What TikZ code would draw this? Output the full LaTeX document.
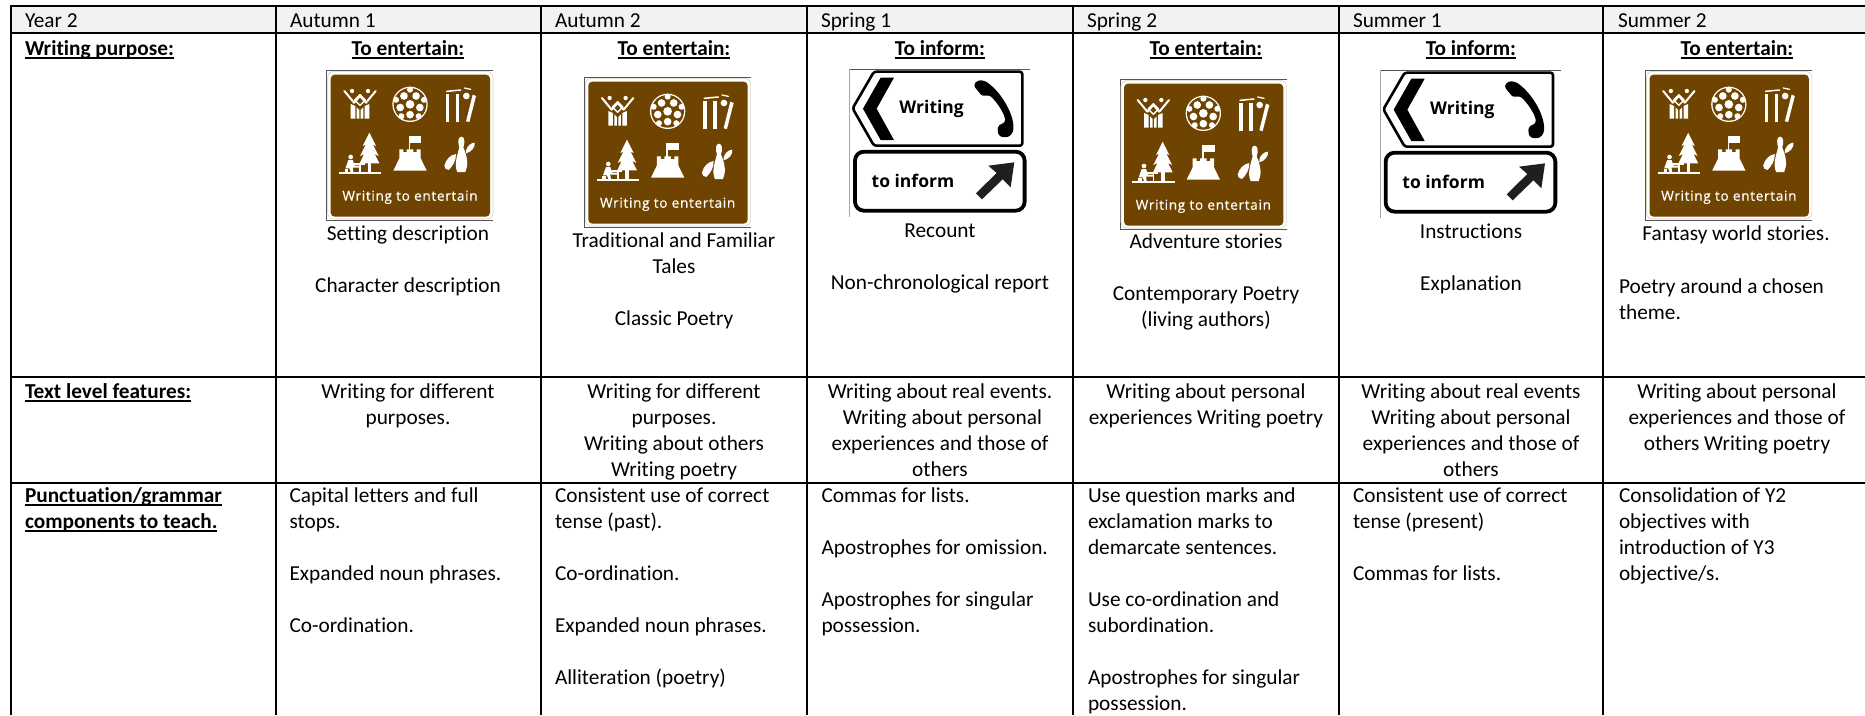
\documentclass[tikz,border=0pt]{standalone}
\usepackage{fontspec}
\setmainfont[Ligatures=NoCommon]{Carlito}
\newfontfamily\signfont[LetterSpace=5,FakeBold=0.4]{Open Sans}
\newfontfamily\roadfont{Open Sans}
\definecolor{signbrown}{HTML}{6F4400}
\definecolor{headgrey}{HTML}{F2F2F2}
\definecolor{framegrey}{HTML}{555555}
\definecolor{creamline}{HTML}{D8D2C0}
\newcommand\tabfont{\fontsize{21.3}{26}\selectfont}
\newcommand\ulb[1]{\setbox0\hbox{\bfseries #1}\rlap{\rule[-3.6pt]{\wd0}{1.7pt}}\box0}
\tikzset{
  x=1pt,y=-1pt,
  gridline/.style={line width=2pt,black},
  cellw/.style={anchor=north west,inner sep=0pt,outer sep=0pt,align=left,font=\tabfont,yshift=18.2pt},
  cellc/.style={anchor=north,inner sep=0pt,outer sep=0pt,align=center,font=\tabfont,yshift=18.2pt},
  entlabel/.style={text=white,inner sep=0pt,font=\signfont\fontsize{13.6}{14}\selectfont},
  roadlabel/.style={text=black,inner sep=0pt,font=\roadfont\bfseries\fontsize{17.5}{18}\selectfont},
  iconw/.style={fill=white,draw=none},
  iconl/.style={draw=white,line cap=round,line join=round},
}
\newcommand\entsign[3]{%
\begin{scope}[shift={(#1,#2)},scale=1/3,shift={(-290,-210)}]
  \draw[framegrey,line width=.7pt] (790,211) -- (290,211) -- (290,660) -- (790,660);
  \draw[creamline,line width=.6pt,rounded corners=6pt] (293,214) rectangle (789,657);
  \fill[signbrown,rounded corners=4pt] (302,224) rectangle (780,650);
  % people
  \draw[iconl,line width=2pt] (343,273) -- (372,308) -- (390,288) -- (408,308) -- (437,273);
  \draw[iconl,line width=1.4pt] (390,284) -- (406,300) -- (390,316) -- (374,300) -- cycle;
  \fill[white] (366,273) circle (6.5) (414,273) circle (6.5);
  \fill[white] (362,312) -- (376,318) -- (376,356) -- (362,356) -- cycle
               (404,318) -- (418,312) -- (418,356) -- (404,356) -- cycle
               (380,322) -- (388,330) -- (388,356) -- (380,356) -- cycle
               (400,322) -- (392,330) -- (392,356) -- (400,356) -- cycle;
  % football
  \fill[white] (540,313) circle (53);
  \fill[signbrown] (540,313) circle (49);
  \fill[white] (540,313) circle (13);
  \foreach \a in {18,90,162,234,306}{
    \fill[white] (540,313)++(\a:31) circle (11.5);
  }
  \foreach \a in {54,126,198,270,342}{
    \fill[white] (540,313)++(\a:44) circle (9);
  }
  % stumps
  \fill[iconw] (647,283) rectangle (658,366);
  \fill[iconw] (677,283) rectangle (688,366);
  \fill[iconw] (728,284) -- (738,288) -- (718,366) -- (708,364) -- cycle;
  \draw[iconl,line width=1.5pt] (650,274) -- (692,270);
  \draw[iconl,line width=1.3pt] (703,264) -- (722,268);
  \fill[white] (709,288) circle (10);
  % tree and picnic table
  \fill[iconw] (418,398) -- (438,438) -- (429,434) -- (446,468) -- (434,462) -- (448,490) -- (389,490) -- (402,462) -- (390,468) -- (407,434) -- (398,438) -- cycle;
  \fill[iconw] (413,480) rectangle (424,520);
  \fill[iconw] (327,516) rectangle (454,523);
  \fill[white] (362,471) circle (7);
  \fill[iconw] (355,480) -- (368,480) -- (374,497) -- (390,497) -- (390,503) -- (368,503) -- (370,516) -- (362,516) -- (358,505) -- (346,505) -- cycle;
  \fill[iconw] (372,490) rectangle (404,495);
  \fill[iconw] (388,495) rectangle (393,516);
  \fill[iconw] (344,506) rectangle (355,516);
  % sand castle
  \fill[iconw] (490,512) -- (508,475) -- (508,448) -- (520,448) -- (520,456) -- (530,456) -- (530,448) -- (550,448) -- (550,456) -- (560,456) -- (560,448) -- (572,448) -- (572,475) -- (590,512) -- cycle;
  \fill[iconw] (536,408) rectangle (541,450);
  \fill[iconw] (541,408) rectangle (574,429);
  % skittles
  \fill[iconw] (694,410) .. controls (706,410) and (704,432) .. (700,442) .. controls (712,470) and (716,495) .. (706,516) -- (682,516) .. controls (672,495) and (680,470) .. (688,442) .. controls (684,432) and (682,410) .. (694,410) -- cycle;
  \fill[iconw] (643,497) .. controls (648,478) and (660,465) .. (678,462) .. controls (678,484) and (668,498) .. (656,510) .. controls (648,510) and (643,504) .. (643,497) -- cycle;
  \fill[iconw] (708,452) .. controls (710,440) and (722,428) .. (734,428) .. controls (736,442) and (724,456) .. (708,460) -- cycle;
  \node[entlabel] (#3) at (540,592) {Writing to entertain};
\end{scope}}
\newcommand\infsign[3]{%
\begin{scope}[shift={(#1,#2)},scale=1/3,shift={(-508,-207)}]
  \draw[framegrey,line width=.6pt] (1050,208) -- (508,208);
  \draw[gray!70,line width=.6pt] (508,208) -- (508,650);
  \draw[black,line width=2.6pt,line join=round,rounded corners=2.5pt] (518,325) -- (582,215) -- (1027,215) -- (1027,437) -- (582,437) -- cycle;
  \fill[black] (602,233) -- (642,233) -- (590,326) -- (642,420) -- (602,420) -- (549,326) -- cycle;
  \node[roadlabel] (#3a) at (755,328) {Writing};
  \fill[black,rounded corners=3pt] (880,256) -- (892,241) -- (912,241) .. controls (960,272) and (1003,340) .. (1000,396) -- (986,412) -- (960,411) -- (952,396) -- (955,375) -- (976,368) .. controls (974,340) and (950,305) .. (926,284) -- (908,290) -- cycle;
  \draw[black,line width=3.8pt,rounded corners=9pt] (525,455) rectangle (1034,632);
  \node[roadlabel] (#3b) at (699,543) {to inform};
  \fill[black!88] (1003,487) -- (925,497) -- (950,519) -- (888,580) -- (906,598) -- (968,538) -- (992,562) -- cycle;
\end{scope}}
\begin{document}
\begin{tikzpicture}
\useasboundingbox (0,0) rectangle (1865,715);
\fill[white] (0,0) rectangle (1865,715);
\fill[headgrey] (10.5,6) rectangle (1865,33);
% grid
\draw[gridline] (10.5,6) -- (1865,6);
\draw[gridline] (10.5,33) -- (1865,33);
\draw[gridline] (10.5,377) -- (1865,377);
\draw[gridline] (10.5,483) -- (1865,483);
\foreach \cx in {10.5,275.5,541,807,1073,1339,1603}{\draw[gridline] (\cx,5) -- (\cx,715);}
% header
\node[cellw] (h0) at (25,27) {\strut Year 2};
\node[cellw] (h1) at (290,27) {\strut Autumn 1};
\node[cellw] (h2) at (555,27) {\strut Autumn 2};
\node[cellw] (h3) at (821,27) {\strut Spring 1};
\node[cellw] (h4) at (1087,27) {\strut Spring 2};
\node[cellw] (h5) at (1353,27) {\strut Summer 1};
\node[cellw] (h6) at (1618,27) {\strut Summer 2};
% purpose row
\node[cellw] (p0) at (25,55) {\strut\ulb{Writing purpose:}};
\node[cellc] (p1) at (408,55) {\strut\ulb{To entertain:}};
\node[cellc] (p2) at (674,55) {\strut\ulb{To entertain:}};
\node[cellc] (p3) at (940,55) {\strut\ulb{To inform:}};
\node[cellc] (p4) at (1206,55) {\strut\ulb{To entertain:}};
\node[cellc] (p5) at (1471,55) {\strut\ulb{To inform:}};
\node[cellc] (p6) at (1737,55) {\strut\ulb{To entertain:}};
% signs
\entsign{326.7}{70}{s1}
\entsign{584.3}{77}{s2}
\infsign{849.3}{69}{s3}
\entsign{1120}{79}{s4}
\infsign{1380}{70}{s5}
\entsign{1645.5}{70}{s6}
% genres
\node[cellc] (g1) at (408,240) {\strut Setting description\\[26pt]\strut Character description};
\node[cellc] (g2) at (674,247) {\strut Traditional and Familiar\\\strut Tales\\[26pt]\strut Classic Poetry};
\node[cellc] (g3) at (940,237) {\strut Recount\\[26pt]\strut Non-chronological report};
\node[cellc] (g4) at (1206,248) {\strut Adventure stories\\[26pt]\strut Contemporary Poetry\\\strut (living authors)};
\node[cellc] (g5) at (1471,238) {\strut Instructions\\[26pt]\strut Explanation};
\node[cellc] (g6a) at (1736,240) {\strut Fantasy world stories.};
\node[cellw] (g6b) at (1619,293) {\strut Poetry around a chosen\\\strut theme.};
% text level row
\node[cellw] (t0) at (25,398) {\strut\ulb{Text level features:}};
\node[cellc] (t1) at (408,398) {\strut Writing for different\\\strut purposes.};
\node[cellc] (t2) at (674,398) {\strut Writing for different\\\strut purposes.\\\strut Writing about others\\\strut Writing poetry};
\node[cellc] (t3) at (940,398) {\strut Writing about real events.\\\strut \ Writing about personal\\\strut experiences and those of\\\strut others};
\node[cellc] (t4) at (1206,398) {\strut Writing about personal\\\strut experiences Writing poetry};
\node[cellc] (t5) at (1471,398) {\strut Writing about real events\\\strut Writing about personal\\\strut experiences and those of\\\strut others};
\node[cellc] (t6) at (1737,398) {\strut Writing about personal\\\strut experiences and those of\\\strut others Writing poetry};
% punctuation row
\node[cellw] (u0) at (25,502) {\strut\ulb{Punctuation/grammar}\\\strut\ulb{components to teach.}};
\node[cellw] (u1) at (289.5,502) {\strut Capital letters and full\\\strut stops.\\[26pt]\strut Expanded noun phrases.\\[26pt]\strut Co-ordination.};
\node[cellw] (u2) at (555,502) {\strut Consistent use of correct\\\strut tense (past).\\[26pt]\strut Co-ordination.\\[26pt]\strut Expanded noun phrases.\\[26pt]\strut Alliteration (poetry)};
\node[cellw] (u3) at (821.5,502) {\strut Commas for lists.\\[26pt]\strut Apostrophes for omission.\\[26pt]\strut Apostrophes for singular\\\strut possession.};
\node[cellw] (u4) at (1088,502) {\strut Use question marks and\\\strut exclamation marks to\\\strut demarcate sentences.\\[26pt]\strut Use co-ordination and\\\strut subordination.\\[26pt]\strut Apostrophes for singular\\\strut possession.};
\node[cellw] (u5) at (1353,502) {\strut Consistent use of correct\\\strut tense (present)\\[26pt]\strut Commas for lists.};
\node[cellw] (u6) at (1619,502) {\strut Consolidation of Y2\\\strut objectives with\\\strut introduction of Y3\\\strut objective/s.};
\end{tikzpicture}
\end{document}
